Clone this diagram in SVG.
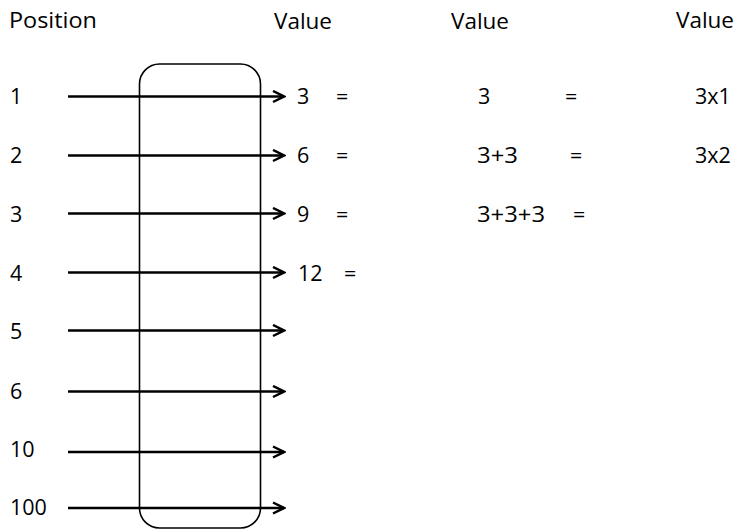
<svg xmlns="http://www.w3.org/2000/svg" width="742" height="530" viewBox="0 0 742 530">
<style>
text{font-family:"Open Sans","Liberation Sans",sans-serif;font-size:21.5px;fill:#000}
.ar{stroke:#000;stroke-width:2.5;fill:none}
</style>
<defs>
<marker id="ah" markerWidth="14" markerHeight="14" refX="12" refY="7" orient="auto" markerUnits="userSpaceOnUse">
<path d="M1,1.5 L12,7 L1,12.5" fill="none" stroke="#000" stroke-width="2.5"/>
</marker>
</defs>
<rect width="742" height="530" fill="#fff"/>
<g id="box"><rect x="139.5" y="64" width="121" height="464" rx="20" fill="none" stroke="#000" stroke-width="1.6"/></g>
<g id="headers">
<text x="9" y="28" textLength="88" lengthAdjust="spacingAndGlyphs">Position</text>
<text x="274" y="29" textLength="58" lengthAdjust="spacingAndGlyphs">Value</text>
<text x="451" y="29" textLength="58" lengthAdjust="spacingAndGlyphs">Value</text>
<text x="676" y="28" textLength="58" lengthAdjust="spacingAndGlyphs">Value</text>
</g>
<g id="positions">
<text x="10" y="104">1</text>
<text x="10" y="163">2</text>
<text x="10" y="222">3</text>
<text x="10" y="281">4</text>
<text x="10" y="339">5</text>
<text x="10" y="399">6</text>
<text x="10" y="457">10</text>
<text x="10" y="515">100</text>
</g>
<g id="connectors">
<line class="ar" x1="68" y1="96.5" x2="284" y2="96.5" marker-end="url(#ah)"/>
<line class="ar" x1="68" y1="155.5" x2="284" y2="155.5" marker-end="url(#ah)"/>
<line class="ar" x1="68" y1="213.5" x2="284" y2="213.5" marker-end="url(#ah)"/>
<line class="ar" x1="68" y1="272.5" x2="284" y2="272.5" marker-end="url(#ah)"/>
<line class="ar" x1="68" y1="330.5" x2="284" y2="330.5" marker-end="url(#ah)"/>
<line class="ar" x1="68" y1="391.5" x2="284" y2="391.5" marker-end="url(#ah)"/>
<line class="ar" x1="68" y1="452" x2="284" y2="452" marker-end="url(#ah)"/>
<line class="ar" x1="68" y1="508" x2="284" y2="508" marker-end="url(#ah)"/>
</g>
<g id="values">
<text x="297" y="104">3</text><text x="336" y="104">=</text>
<text x="478" y="104">3</text><text x="565" y="104">=</text><text x="695" y="104">3x1</text>
<text x="297" y="163">6</text><text x="336" y="163">=</text>
<text x="477" y="163" textLength="41" lengthAdjust="spacingAndGlyphs">3+3</text><text x="570" y="163">=</text><text x="695" y="163">3x2</text>
<text x="297" y="222">9</text><text x="336" y="222">=</text>
<text x="477" y="222" textLength="68" lengthAdjust="spacingAndGlyphs">3+3+3</text><text x="573" y="222">=</text>
<text x="298" y="281">12</text><text x="344" y="281">=</text>
</g>
</svg>
